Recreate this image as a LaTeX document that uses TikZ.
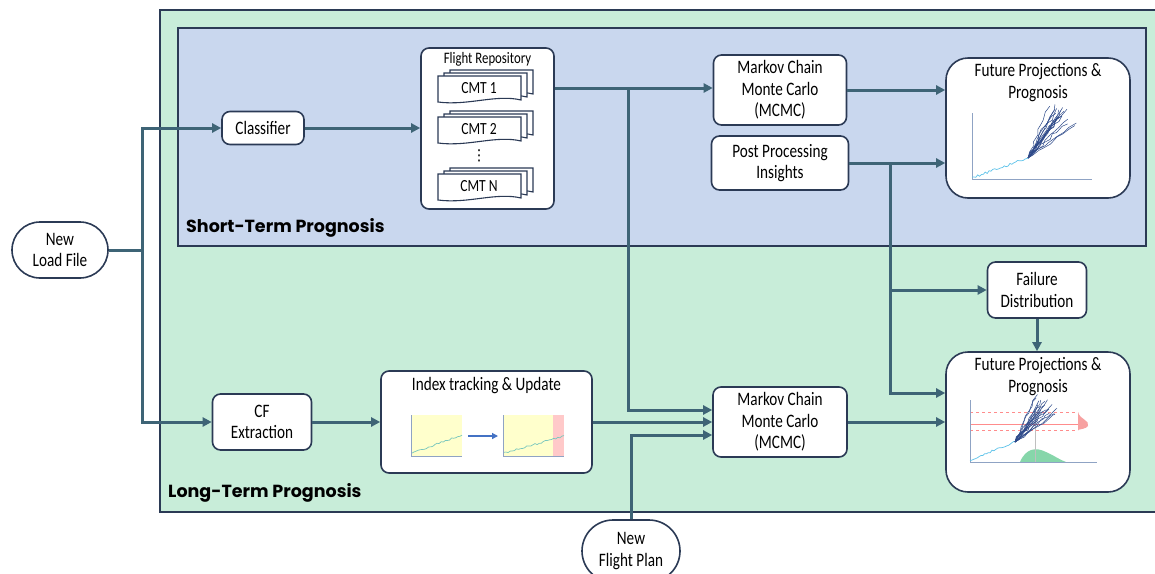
\documentclass[tikz,border=0pt]{standalone}
\usepackage{fontspec}
\setmainfont{Carlito}[FakeStretch=0.8]
\newfontfamily\popfont{Poppins}
\newfontfamily\symfont{DejaVu Sans}
\usetikzlibrary{arrows.meta,shapes.misc}
\definecolor{ltgreen}{HTML}{C8EDD9}
\definecolor{ltblue}{HTML}{C9D7EE}
\definecolor{edge}{HTML}{2B3A55}
\definecolor{wire}{HTML}{3E6476}
\definecolor{axis}{HTML}{8FA3C4}
\definecolor{hist}{HTML}{5EC3EA}
\definecolor{fan}{HTML}{2E4A8A}
\definecolor{pad}{HTML}{FFFFCC}
\definecolor{padred}{HTML}{FFC9C9}
\definecolor{trk}{HTML}{79C7BD}
\definecolor{bump}{HTML}{86D6AA}
\definecolor{rbump}{HTML}{F7A1A1}

\begin{document}
\begin{tikzpicture}[x=1pt,y=-1pt,
    box/.style={draw=edge, line width=1.6pt, fill=white, rounded corners=8pt, align=center,
        inner sep=2pt, font=\fontsize{19}{21.5}\selectfont},
    pill/.style={draw=edge, line width=1.6pt, fill=white, rounded rectangle, align=center,
        inner sep=2pt, font=\fontsize{19}{21.5}\selectfont},
    bigbox/.style={box, rounded corners=22pt, minimum width=184, minimum height=140},
    wire/.style={draw=wire, line width=3pt, -{Triangle[length=9pt,width=9pt]}},
    panel/.style={draw=edge, line width=1.5pt},
    title/.style={font=\popfont\bfseries\fontsize{17.5}{19}\selectfont, anchor=south west, inner sep=0pt},
    sheet/.style={draw=edge, line width=1.1pt, fill=white}]
\useasboundingbox (0,0) rectangle (1155,573);
\pgfmathsetseed{11}

% panels
\draw[panel, fill=ltgreen] (160,10) rectangle (1158,512);
\draw[panel, fill=ltblue] (178,28) rectangle (1146,246);
\node[title] (stp) at (186,238) {Short-Term Prognosis};
\node[title] (ltp) at (168,503) {Long-Term Prognosis};

% nodes
\node[pill, minimum width=100, minimum height=56] (load) at (60,250) {New\\Load File};
\node[pill, minimum width=102, minimum height=62] (plan) at (631,551) {New\\Flight Plan};
\node[box, minimum width=82, minimum height=33] (cls) at (263,128) {Classifier};
\node[box, minimum width=99, minimum height=56] (cfx) at (262,422) {CF\\Extraction};
\node[box, minimum width=133, minimum height=161] (repo) at (487.5,128.5) {};
\node[font=\fontsize{16}{18}\selectfont, anchor=north] (repot) at ([yshift=-2]repo.north) {Flight Repository};
\node[box, minimum width=133, minimum height=70] (mc1) at (780,90) {Markov Chain\\Monte Carlo\\(MCMC)};
\node[box, minimum width=137, minimum height=54] (post) at (780,163) {Post Processing\\Insights};
\node[box, minimum width=99, minimum height=56] (fail) at (1037,290) {Failure\\Distribution};
\node[box, minimum width=211, minimum height=102] (idx) at (486.5,422) {};
\node[font=\fontsize{19}{21.5}\selectfont, anchor=north] (idxt) at ([yshift=-4]idx.north) {Index tracking \& Update};
\node[box, minimum width=134, minimum height=70] (mc2) at (780,422) {Markov Chain\\Monte Carlo\\(MCMC)};
\node[bigbox] (fut1) at (1038,128) {};
\node[font=\fontsize{19}{21.5}\selectfont, align=center, anchor=north] (fut1t) at ([yshift=-3]fut1.north) {Future Projections \&\\Prognosis};
\node[bigbox] (fut2) at (1038,422) {};
\node[font=\fontsize{19}{21.5}\selectfont, align=center, anchor=north] (fut2t) at ([yshift=-3]fut2.north) {Future Projections \&\\Prognosis};

% flight repository stacks
\foreach \y/\lab/\nm in {76/CMT 1/c1, 117/CMT 2/c2, 174/CMT N/cn}{
    \foreach \dx/\dy in {12/-6, 6/-3, 0/0}
        \draw[sheet] (438+\dx,\y+\dy) -- ++(83,0) -- ++(0,24)
            .. controls +(-25,-6) and +(30,4) .. (438+\dx,\y+\dy+26) -- cycle;
    \node[font=\fontsize{17}{19}\selectfont] (\nm) at (479,\y+12) {\lab};
}
\node[font=\symfont\fontsize{15}{15}\selectfont, inner sep=0pt] (dots) at (479,156) {⋮};

% index tracking plots
\fill[pad] (411,415) rectangle (462,456);
\fill[pad] (503,415) rectangle (553,456);
\fill[padred] (553,415) rectangle (564,456);
\draw[axis, line width=1pt] (411,415) -- (411,456) -- (462,456);
\draw[axis, line width=1pt] (503,415) -- (503,456) -- (564,456);
\draw[trk, line width=0.7pt] plot[domain=412:462, samples=25] (\x,{453-(\x-412)*0.36+1*rand});
\draw[trk, line width=0.7pt] plot[domain=504:564, samples=30] (\x,{453-(\x-504)*0.28+1*rand});
\draw[draw={rgb,255:red,68;green,114;blue,196}, line width=1.3pt, -{Triangle[length=6pt,width=6pt]}] (468,436) -- (498,436);

% top projection plot
\draw[axis, line width=0.8pt] (972,113) -- (972,179) -- (1092,179);
\draw[hist, line width=0.7pt] plot[domain=972:1027, samples=30] (\x,{178-(\x-972)*0.36+1.2*rand}) -- (1028,158);
\foreach \i in {1,...,18}{
    \pgfmathsetmacro{\ang}{52+17*rand}
    \pgfmathsetmacro{\len}{50+12*rnd}
    \draw[fan, line width=0.5pt] (1028,158) \foreach \t in {1,...,9}{ -- ({1028+\t/9*\len*cos(\ang)+1.8*rand},{158-\t/9*\len*sin(\ang)+1.8*rand}) };
}

% bottom projection plot
\fill[bump] (1020,462) .. controls (1026,448) and (1036,447) .. (1046,452) .. controls (1055,456) and (1060,460) .. (1066,462) -- cycle;
\draw[gray!50, line width=0.6pt] (1035,412) -- (1035,462);
\draw[red!45, dashed, line width=0.6pt] (970,412) -- (1078,412);
\draw[red!45, dashed, line width=0.6pt] (970,430) -- (1078,430);
\draw[red!45, line width=0.8pt] (970,424) -- (1078,424);
\fill[rbump] (1078,412) .. controls (1080,420) and (1090,420) .. (1088,426) .. controls (1086,429) and (1080,429) .. (1078,430) -- cycle;
\draw[axis, line width=0.8pt] (970,400) -- (970,462) -- (1097,462);
\draw[hist, line width=0.7pt] plot[domain=970:1014, samples=25] (\x,{460-(\x-970)*0.4+1.2*rand}) -- (1015,442);
\foreach \i in {1,...,18}{
    \pgfmathsetmacro{\ang}{50+16*rand}
    \pgfmathsetmacro{\len}{42+12*rnd}
    \draw[fan, line width=0.5pt] (1015,442) \foreach \t in {1,...,9}{ -- ({1015+\t/9*\len*cos(\ang)+1.6*rand},{442-\t/9*\len*sin(\ang)+1.6*rand}) };
}

% connectors
\coordinate (split) at (142,250);
\coordinate (fork) at (628,88);
\coordinate (tap) at (890,163);
\draw[wire, -] (load.east) -- (split);
\draw[wire] (split) |- (cls.west);
\draw[wire] (split) |- (cfx.west);
\draw[wire] (cls.east) -- (repo.west |- cls.east);
\draw[wire] (repo.east |- fork) -- (mc1.west |- fork);
\draw[wire] (fork) |- ([yshift=12]mc2.west);
\draw[wire] (mc1.east) -- (mc1.east -| fut1.west);
\draw[wire] (post.east) -- (post.east -| fut1.west);
\draw[wire] (tap) |- (fail.west);
\draw[wire] (tap) |- ([yshift=29]fut2.west);
\draw[wire] (fail.south) -- (fail.south |- fut2.north);
\draw[wire] (cfx.east) -- (idx.west);
\draw[wire] (idx.east) -- (mc2.west);
\draw[wire] (plan.north) |- ([yshift=-13]mc2.west);
\draw[wire] (mc2.east) -- (mc2.east -| fut2.west);
\end{tikzpicture}
\end{document}
